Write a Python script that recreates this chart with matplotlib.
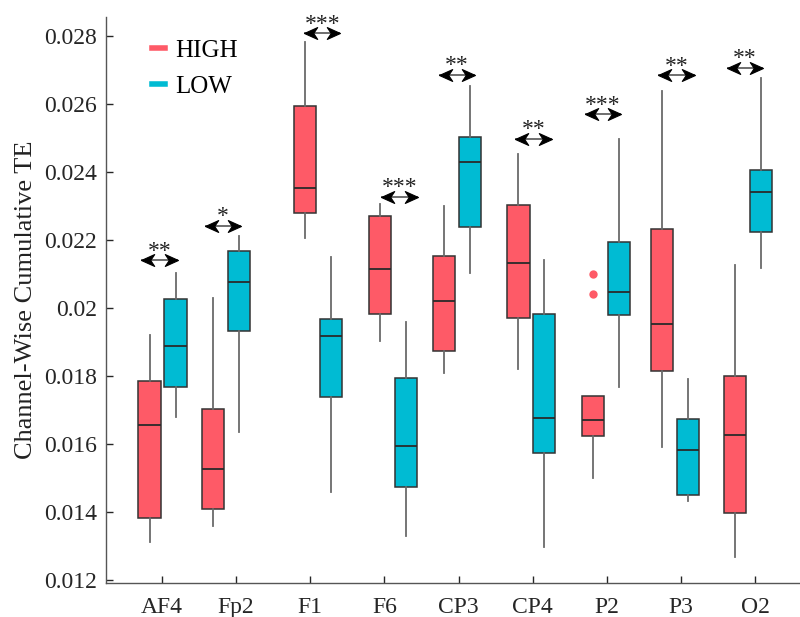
import matplotlib
matplotlib.use('Agg')
import matplotlib.pyplot as plt
from matplotlib.lines import Line2D
from matplotlib.path import Path

## Data
channels = ['AF4', 'Fp2', 'F1', 'F6', 'CP3', 'CP4', 'P2', 'P3', 'O2']

# HIGH group: whisker low, q1, median, q3, whisker high
high_lo  = [0.01314, 0.01361, 0.02207, 0.01903, 0.01810, 0.01822, 0.01501, 0.01593, 0.01268]
high_q1  = [0.01384, 0.01409, 0.02278, 0.01982, 0.01875, 0.01970, 0.01625, 0.01814, 0.01399]
high_med = [0.01655, 0.01527, 0.02353, 0.02115, 0.02020, 0.02133, 0.01671, 0.01954, 0.01628]
high_q3  = [0.01785, 0.01703, 0.02593, 0.02270, 0.02154, 0.02302, 0.01741, 0.02232, 0.01799]
high_hi  = [0.01921, 0.02030, 0.02781, 0.02306, 0.02300, 0.02453, 0.01741, 0.02638, 0.02127]
high_out = [[], [], [], [], [], [], [0.02100, 0.02040], [], []]

# LOW group
low_lo  = [0.01679, 0.01637, 0.01460, 0.01331, 0.02104, 0.01299, 0.01768, 0.01434, 0.02117]
low_q1  = [0.01769, 0.01933, 0.01739, 0.01475, 0.02237, 0.01575, 0.01979, 0.01450, 0.02222]
low_med = [0.01889, 0.02076, 0.01917, 0.01596, 0.02428, 0.01677, 0.02046, 0.01582, 0.02340]
low_q3  = [0.02026, 0.02168, 0.01967, 0.01795, 0.02502, 0.01982, 0.02193, 0.01674, 0.02405]
low_hi  = [0.02102, 0.02212, 0.02149, 0.01958, 0.02652, 0.02141, 0.02496, 0.01792, 0.02677]
low_out = [[], [], [], [], [], [], [], [], []]

# box centres (HIGH); LOW sits 0.35 to the right
high_pos = [0.838, 1.691, 2.935, 3.938, 4.807, 5.806, 6.815, 7.745, 8.724]
low_pos = [p + 0.35 for p in high_pos]

# significance markers
sig_x = [0.973, 1.830, 3.163, 4.202, 4.976, 6.011, 6.943, 7.934, 8.861]
sig_y = [0.02141, 0.02242, 0.02807, 0.02327, 0.02685, 0.02497, 0.02570, 0.02684, 0.02706]
sig_lbl = ['**', '*', '***', '***', '**', '**', '***', '**', '**']

yticks = [0.012, 0.014, 0.016, 0.018, 0.020, 0.022, 0.024, 0.026, 0.028]
ytick_lbl = ['0.012', '0.014', '0.016', '0.018', '0.02', '0.022', '0.024', '0.026', '0.028']

red = '#FE5A67'
blue = '#00BBD3'

plt.rcParams['font.family'] = ['Liberation Serif', 'DejaVu Serif']

#%% Plot
fig = plt.figure(figsize=(8, 6.17), dpi=100)
ax = fig.add_axes([0.132, 0.0556, 0.868, 0.9174])


def make_stats(lo, q1, med, q3, hi, out):
    return [dict(whislo=a, q1=b, med=c, q3=d, whishi=e, fliers=f)
            for a, b, c, d, e, f in zip(lo, q1, med, q3, hi, out)]


for stats, pos, col in [(make_stats(high_lo, high_q1, high_med, high_q3, high_hi, high_out), high_pos, red),
                        (make_stats(low_lo, low_q1, low_med, low_q3, low_hi, low_out), low_pos, blue)]:
    ax.bxp(stats, positions=pos, widths=0.3, patch_artist=True, showcaps=False,
           boxprops=dict(facecolor=col, edgecolor='#333333', linewidth=1.1),
           medianprops=dict(color='#2a2a2a', linewidth=1.3),
           whiskerprops=dict(color='#6a6a6a', linewidth=1.3),
           flierprops=dict(marker='o', markerfacecolor=col, markeredgecolor='none', markersize=6))

# swept-back arrow heads (tip at origin)
head_r = Path([(0, 0), (-1, 0.45), (-0.7, 0), (-1, -0.45), (0, 0)],
              [Path.MOVETO, Path.LINETO, Path.LINETO, Path.LINETO, Path.CLOSEPOLY])
head_l = Path([(0, 0), (1, 0.45), (0.7, 0), (1, -0.45), (0, 0)],
              [Path.MOVETO, Path.LINETO, Path.LINETO, Path.LINETO, Path.CLOSEPOLY])

half = 0.245
for x, y, s in zip(sig_x, sig_y, sig_lbl):
    ax.plot([x - half, x + half], [y, y], color='#555555', lw=1.2, solid_capstyle='butt')
    for hx, hd in [(x + half, head_r), (x - half, head_l)]:
        ax.plot([hx], [y], marker=hd, ms=19, color='black', mfc='black', mec='black', mew=0.8,
                linestyle='none')
    ax.annotate(s, xy=(x, y), xytext=(0, 2.5), textcoords='offset points',
                ha='center', va='baseline', fontsize=17, color='#222222')

ax.set_xlim(0.245, 9.6)
ax.set_ylim(0.01193, 0.02856)
ax.set_xticks(range(1, len(channels) + 1))
ax.set_xticklabels(channels)
ax.set_yticks(yticks)
ax.set_yticklabels(ytick_lbl)
ax.tick_params(direction='in', length=5, width=1, colors='#262626', labelsize=17)
ax.tick_params(axis='x', pad=10)
ax.tick_params(axis='y', pad=6)
ax.spines['top'].set_visible(False)
ax.spines['right'].set_visible(False)
for sp in ['left', 'bottom']:
    ax.spines[sp].set_color('#555555')
    ax.spines[sp].set_linewidth(1)
ax.set_ylabel('Channel-Wise Cumulative TE', fontsize=19, color='#222222', labelpad=5)

handles = [Line2D([], [], color=red, lw=4), Line2D([], [], color=blue, lw=4)]
ax.legend(handles, ['HIGH', 'LOW'], loc='upper left', bbox_to_anchor=(0.035, 1.0),
          frameon=False, fontsize=18, handlelength=0.5, handletextpad=0.4, labelspacing=0.55)

fig.savefig('out.png', dpi=100)
